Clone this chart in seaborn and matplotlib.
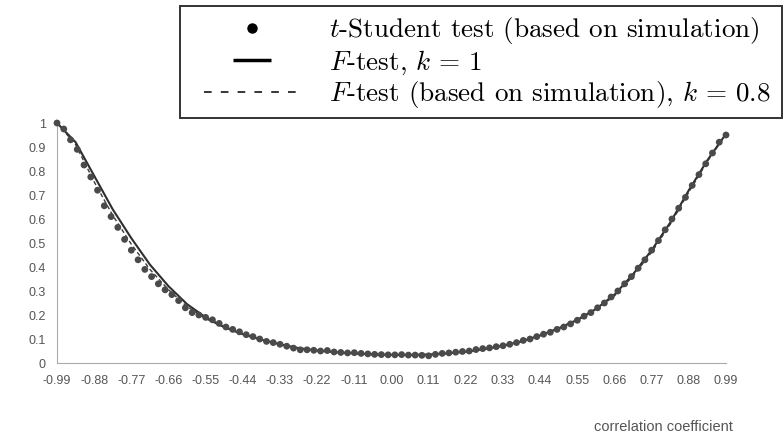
import numpy as np
import pandas as pd
import matplotlib
matplotlib.use("Agg")
import matplotlib.pyplot as plt
from matplotlib.lines import Line2D
from matplotlib.patches import Rectangle
import seaborn as sns

# ---- data ----
r_sim = [-0.99, -0.97, -0.95, -0.93, -0.91, -0.89, -0.87, -0.85, -0.83, -0.81,
         -0.79, -0.77, -0.75, -0.73, -0.71, -0.69, -0.67, -0.65, -0.63, -0.61,
         -0.59, -0.57, -0.55, -0.53, -0.51, -0.49, -0.47, -0.45, -0.43, -0.41,
         -0.39, -0.37, -0.35, -0.33, -0.31, -0.29, -0.27, -0.25, -0.23, -0.21,
         -0.19, -0.17, -0.15, -0.13, -0.11, -0.09, -0.07, -0.05, -0.03, -0.01,
         0.01, 0.03, 0.05, 0.07, 0.09, 0.11, 0.13, 0.15, 0.17, 0.19,
         0.21, 0.23, 0.25, 0.27, 0.29, 0.31, 0.33, 0.35, 0.37, 0.39,
         0.41, 0.43, 0.45, 0.47, 0.49, 0.51, 0.53, 0.55, 0.57, 0.59,
         0.61, 0.63, 0.65, 0.67, 0.69, 0.71, 0.73, 0.75, 0.77, 0.79,
         0.81, 0.83, 0.85, 0.87, 0.89, 0.91, 0.93, 0.95, 0.97, 0.99]
t_student = [1.000, 0.975, 0.930, 0.890, 0.825, 0.775, 0.720, 0.655, 0.610, 0.565,
             0.515, 0.470, 0.430, 0.390, 0.360, 0.330, 0.305, 0.285, 0.260, 0.230,
             0.210, 0.200, 0.190, 0.180, 0.165, 0.150, 0.140, 0.130, 0.118, 0.110,
             0.100, 0.090, 0.085, 0.078, 0.070, 0.062, 0.055, 0.055, 0.053, 0.050,
             0.052, 0.046, 0.044, 0.042, 0.043, 0.040, 0.038, 0.036, 0.035, 0.034,
             0.034, 0.035, 0.033, 0.033, 0.032, 0.030, 0.036, 0.040, 0.042, 0.045,
             0.048, 0.050, 0.056, 0.060, 0.063, 0.068, 0.072, 0.078, 0.085, 0.094,
             0.100, 0.110, 0.120, 0.128, 0.140, 0.150, 0.163, 0.178, 0.195, 0.210,
             0.230, 0.250, 0.275, 0.300, 0.330, 0.360, 0.395, 0.430, 0.470, 0.510,
             0.555, 0.600, 0.645, 0.690, 0.740, 0.785, 0.830, 0.875, 0.920, 0.950]

r_f = [-0.99, -0.935, -0.88, -0.825, -0.77, -0.715, -0.66, -0.605, -0.55, -0.495,
       -0.44, -0.385, -0.33, -0.275, -0.22, -0.165, -0.11, -0.055, 0.00, 0.055,
       0.11, 0.165, 0.22, 0.275, 0.33, 0.385, 0.44, 0.495, 0.55, 0.605,
       0.66, 0.715, 0.77, 0.825, 0.88, 0.935, 0.99]
f_test_k1 = [1.000, 0.920, 0.780, 0.640, 0.520, 0.410, 0.320, 0.245, 0.190, 0.150,
             0.120, 0.097, 0.078, 0.062, 0.052, 0.045, 0.040, 0.036, 0.034, 0.034,
             0.035, 0.040, 0.047, 0.058, 0.072, 0.090, 0.115, 0.145, 0.180, 0.225,
             0.285, 0.370, 0.470, 0.585, 0.720, 0.845, 0.955]
f_test_k08 = [1.000, 0.910, 0.755, 0.615, 0.495, 0.390, 0.305, 0.235, 0.185, 0.148,
              0.118, 0.096, 0.077, 0.061, 0.051, 0.044, 0.039, 0.035, 0.034, 0.034,
              0.035, 0.040, 0.047, 0.058, 0.071, 0.089, 0.114, 0.143, 0.178, 0.222,
              0.280, 0.362, 0.462, 0.578, 0.712, 0.840, 0.952]

x_ticks = [-0.99, -0.88, -0.77, -0.66, -0.55, -0.44, -0.33, -0.22, -0.11, 0.00,
           0.11, 0.22, 0.33, 0.44, 0.55, 0.66, 0.77, 0.88, 0.99]
x_ticklabels = ["-0.99", "-0.88", "-0.77", "-0.66", "-0.55", "-0.44", "-0.33", "-0.22", "-0.11", "0.00",
                "0.11", "0.22", "0.33", "0.44", "0.55", "0.66", "0.77", "0.88", "0.99"]
y_ticks = [0, 0.1, 0.2, 0.3, 0.4, 0.5, 0.6, 0.7, 0.8, 0.9, 1.0]
y_ticklabels = ["0", "0.1", "0.2", "0.3", "0.4", "0.5", "0.6", "0.7", "0.8", "0.9", "1"]

legend_labels = [r"$t$-Student test (based on simulation)",
                 r"$F$-test, $k$ = 1",
                 r"$F$-test (based on simulation), $k$ = 0.8"]
x_label = "correlation coefficient"

# ---- styling ----
sns.set_theme(style="white")
plt.rcParams["font.family"] = ["Liberation Sans", "DejaVu Sans"]
plt.rcParams["mathtext.fontset"] = "cm"

fig = plt.figure(figsize=(7.84, 4.45), dpi=100)
ax = fig.add_axes([57 / 784, 82 / 445, 669 / 784, 240 / 445])

df_sim = pd.DataFrame({"r": r_sim, "p": t_student})
df_f = pd.DataFrame({"r": r_f, "k1": f_test_k1, "k08": f_test_k08})

sns.lineplot(data=df_f, x="r", y="k1", ax=ax, color="#2e2e2e", lw=1.5,
             clip_on=False, zorder=3)
sns.lineplot(data=df_f, x="r", y="k08", ax=ax, color="#3a3a3a", lw=1.0,
             linestyle=(0, (3, 2)), clip_on=False, zorder=3)
sns.scatterplot(data=df_sim, x="r", y="p", ax=ax, color="#4a4a4a", s=24,
                edgecolor="none", clip_on=False, zorder=4)

ax.set_xlim(-0.99, 0.99)
ax.set_ylim(0, 1)
ax.set_xticks(x_ticks)
ax.set_xticklabels(x_ticklabels)
ax.set_yticks(y_ticks)
ax.set_yticklabels(y_ticklabels)
ax.set_xlabel("")
ax.set_ylabel("")
ax.tick_params(axis="both", labelsize=9, labelcolor="#555555", colors="#aaaaaa",
               length=3, width=0.8, direction="out")
ax.tick_params(axis="x", pad=6)
ax.tick_params(axis="y", pad=5)
for s in ["top", "right"]:
    ax.spines[s].set_visible(False)
for s in ["left", "bottom"]:
    ax.spines[s].set_color("#aaaaaa")
    ax.spines[s].set_linewidth(0.8)

fig.text(733 / 784, 1 - 427 / 445, x_label, ha="right", va="center",
         fontsize=10.5, color="#555555")

handles = [
    Line2D([], [], marker="o", color="black", ls="none", markersize=6.5),
    Line2D([], [], marker="_", color="black", ls="none", markersize=27, mew=2.5),
    Line2D([], [], color="black", lw=1.1, ls=(0, (5, 6))),
]
leg = fig.legend(handles, legend_labels, loc="upper left",
                 bbox_to_anchor=(195 / 784, 1 - 6 / 445),
                 prop={"family": "cmr10", "size": 19.5},
                 frameon=False, borderpad=0.35,
                 handlelength=3.5, handletextpad=1.1, labelspacing=0.08,
                 borderaxespad=0)
for t in leg.get_texts():
    t.set_color("black")

frame = Rectangle((180 / 784, 1 - 118 / 445), 602 / 784, 112 / 445,
                  transform=fig.transFigure, facecolor="white",
                  edgecolor="#333333", lw=1.4, zorder=0)
fig.patches.append(frame)

fig.savefig("out.png", dpi=100, facecolor="white")
